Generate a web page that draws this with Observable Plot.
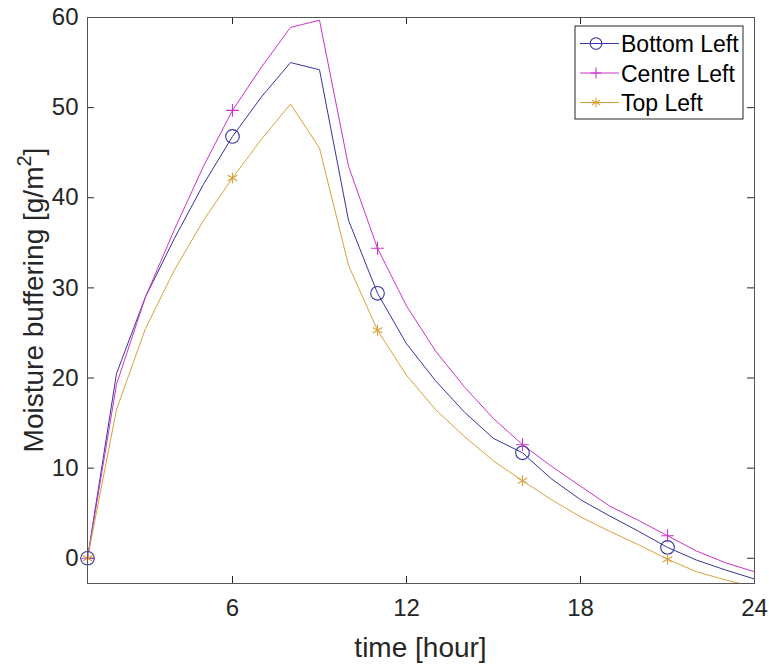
<!DOCTYPE html>
<html><head><meta charset="utf-8">
<script src="https://cdn.jsdelivr.net/npm/d3@7"></script>
<script src="https://cdn.jsdelivr.net/npm/@observablehq/plot@0.6"></script>
<style>body{margin:0;background:#fff;} svg{font-family:"Liberation Sans",Arial,sans-serif;}</style>
</head><body><div id="chart"></div>
<script>
const hours = [1,2,3,4,5,6,7,8,9,10,11,12,13,14,15,16,17,18,19,20,21,22,23,24];
const bottomLeft = [0,20.5,29,35.5,41.5,46.8,51.2,55,54.2,37.5,29.4,23.8,19.7,16.2,13.3,11.7,8.8,6.5,4.7,3.0,1.2,-0.2,-1.3,-2.3];
const centreLeft = [0,19.3,29,36.5,43.5,49.7,54.5,58.9,59.7,43.5,34.4,28,23,19,15.5,12.6,10.2,8,5.8,4.2,2.5,0.8,-0.5,-1.5];
const topLeft = [0,16.5,25.5,32,37.5,42.2,46.5,50.4,45.5,32.5,25.3,20.3,16.5,13.5,10.8,8.6,6.5,4.6,3.0,1.5,-0.1,-1.5,-2.4,-3.2];
const seriesNames = ["Bottom Left","Centre Left","Top Left"];
const seriesColors = ["#35359e","#cc33c8","#d9a13c"];
const seriesSymbols = ["circle","plus","asterisk"];
const xTicks = [6,12,18,24];
const yTicks = [0,10,20,30,40,50,60];
const markerEvery = 5;

const allSeries = [bottomLeft, centreLeft, topLeft];
const rows = [];
allSeries.forEach((vals, s) => vals.forEach((v, i) => rows.push({series: seriesNames[s], s, x: hours[i], y: v, i})));
const markers = rows.filter(d => d.i % markerEvery === 0);
const markerR = [6.8, 4.2, 5.2];

const W = 769, H = 666, mL = 87, mR = 15, mT = 17, mB = 83;
const plotW = W - mL - mR, plotH = H - mT - mB;
const axisColor = "#262626";

const chart = Plot.plot({
  width: W, height: H,
  marginLeft: mL, marginRight: mR, marginTop: mT, marginBottom: mB,
  style: {fontFamily: '"Liberation Sans", Arial, sans-serif', fontSize: "24px", color: axisColor, background: "#fff"},
  x: {domain: [1, 24], ticks: xTicks},
  y: {domain: [-2.8, 60], ticks: yTicks},
  marks: [
    Plot.axisX(xTicks, {tickSize: 0, tickPadding: 15, label: null, fontSize: 24, fill: axisColor}),
    Plot.axisY(yTicks, {tickSize: 0, tickPadding: 9, label: null, fontSize: 24, fill: axisColor}),
    Plot.tickX(xTicks, {x: d => d, insetTop: plotH - 7, stroke: axisColor}),
    Plot.tickX(xTicks, {x: d => d, insetBottom: plotH - 7, stroke: axisColor}),
    Plot.tickY(yTicks, {y: d => d, insetRight: plotW - 7, stroke: axisColor}),
    Plot.tickY(yTicks, {y: d => d, insetLeft: plotW - 7, stroke: axisColor}),
    Plot.line(rows, {x: "x", y: "y", z: "series", stroke: d => seriesColors[d.s], strokeWidth: 1, clip: true}),
    ...seriesNames.map((n, k) => Plot.dot(markers.filter(d => d.s === k), {x: "x", y: "y", symbol: seriesSymbols[k], stroke: seriesColors[k], fill: "none", r: markerR[k], strokeWidth: 1.1})),
    Plot.frame({stroke: "#555", strokeWidth: 1})
  ]
});
document.getElementById("chart").appendChild(chart);

const svg = d3.select(chart);
// axis titles
svg.append("text")
  .attr("x", mL + plotW / 2).attr("y", 657)
  .attr("text-anchor", "middle").attr("font-size", 28).attr("fill", axisColor)
  .text("time [hour]");
const yl = svg.append("text")
  .attr("transform", `translate(43,${mT + plotH / 2}) rotate(-90)`)
  .attr("text-anchor", "middle").attr("font-size", 28).attr("fill", axisColor);
yl.append("tspan").text("Moisture buffering [g/m");
yl.append("tspan").attr("dy", -12).attr("font-size", 20).text("2");
yl.append("tspan").attr("dy", 12).text("]");

// legend
const lg = svg.append("g").attr("transform", "translate(575,26)");
lg.append("rect").attr("width", 168).attr("height", 93).attr("fill", "#fff").attr("stroke", axisColor).attr("stroke-width", 1);
const sym = {circle: d3.symbolCircle, plus: d3.symbolPlus, asterisk: d3.symbolAsterisk};
seriesNames.forEach((name, k) => {
  const y = 17.5 + k * 29.5;
  lg.append("line").attr("x1", 5).attr("x2", 44).attr("y1", y).attr("y2", y).attr("stroke", seriesColors[k]).attr("stroke-width", 1);
  const r = markerR[k] * 0.85;
  lg.append("path").attr("transform", `translate(21,${y})`)
    .attr("d", d3.symbol(sym[seriesSymbols[k]], Math.PI * r * r)())
    .attr("fill", "none").attr("stroke", seriesColors[k]).attr("stroke-width", 1.1);
  lg.append("text").attr("x", 46).attr("y", y + 8.5).attr("text-anchor", "start")
    .attr("font-size", 23).attr("fill", "#000").text(name);
});
</script>
</body></html>
